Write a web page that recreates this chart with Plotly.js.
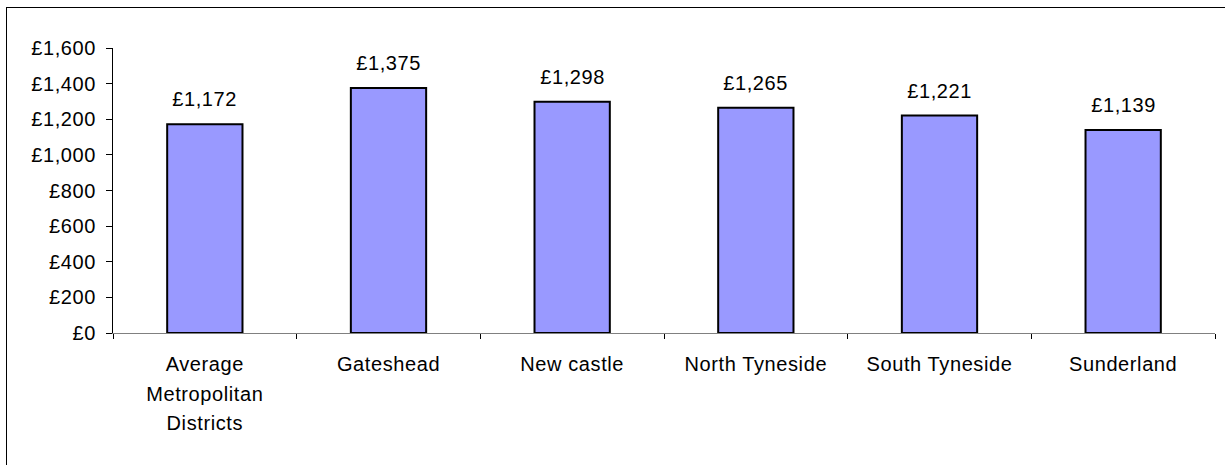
<!DOCTYPE html>
<html>
<head>
<meta charset="utf-8">
<script src="https://cdn.plot.ly/plotly-3.0.1.min.js"></script>
<style>
  html, body { margin: 0; padding: 0; background: #fff; overflow: hidden; }
  #frame { position: absolute; left: 6px; top: 7px; width: 1400px; height: 600px;
           border-left: 1px solid #000; border-top: 1px solid #000; }
  #chart { position: absolute; left: 0; top: 0; width: 1225px; height: 465px; }
  #chart text { letter-spacing: 0.6px; }
</style>
</head>
<body>
<div id="frame"></div>
<div id="chart"></div>
<script>
// Data
const categories = ["Average Metropolitan Districts", "Gateshead", "New castle", "North Tyneside", "South Tyneside", "Sunderland"];
const tickLabels = ["Average<br>Metropolitan<br>Districts", "Gateshead", "New castle", "North Tyneside", "South Tyneside", "Sunderland"];
const values = [1172, 1375, 1298, 1265, 1221, 1139];
const yTicks = [0, 200, 400, 600, 800, 1000, 1200, 1400, 1600];

const FONT = "Liberation Sans, Arial, sans-serif";
const fmt = v => "£" + v.toLocaleString("en-GB");

const trace = {
  type: "bar",
  x: categories,
  y: values,
  marker: { color: "#9999FF", line: { color: "#000000", width: 2 } },
  hoverinfo: "none"
};

const annotations = categories.map((c, i) => ({
  x: c, y: values[i], xref: "x", yref: "y",
  text: fmt(values[i]),
  showarrow: false, yanchor: "bottom", yshift: 12,
  font: { family: FONT, size: 20, color: "#000" }
}));

const layout = {
  width: 1225, height: 465,
  margin: { l: 113, r: 10, t: 48, b: 132, pad: 0 },
  paper_bgcolor: "rgba(0,0,0,0)",
  plot_bgcolor: "rgba(0,0,0,0)",
  showlegend: false,
  bargap: 0.59,
  font: { family: FONT, size: 20, color: "#000" },
  xaxis: {
    type: "category",
    tickmode: "array",
    tickvals: categories,
    ticktext: tickLabels.map(t => t.split("<br>").map(s => '<span style="font-size:20px">' + s + '</span>').join("<br>")),
    tickson: "boundaries",
    ticks: "outside", ticklen: 5, tickcolor: "#000", tickwidth: 1,
    showline: true, linecolor: "#808080", linewidth: 1,
    showgrid: false, zeroline: false,
    tickfont: { family: FONT, size: 23, color: "#000" },
    ticklabelstandoff: 9,
    fixedrange: true
  },
  yaxis: {
    range: [0, 1600],
    tickmode: "array",
    tickvals: yTicks,
    ticktext: yTicks.map(fmt),
    ticks: "outside", ticklen: 6, tickcolor: "#000", tickwidth: 1,
    showline: true, linecolor: "#000", linewidth: 1,
    showgrid: false, zeroline: false,
    tickfont: { family: FONT, size: 20, color: "#000" },
    ticklabelstandoff: 6,
    fixedrange: true
  },
  annotations: annotations
};

Plotly.newPlot("chart", [trace], layout, { staticPlot: true, displayModeBar: false });
</script>
</body>
</html>
